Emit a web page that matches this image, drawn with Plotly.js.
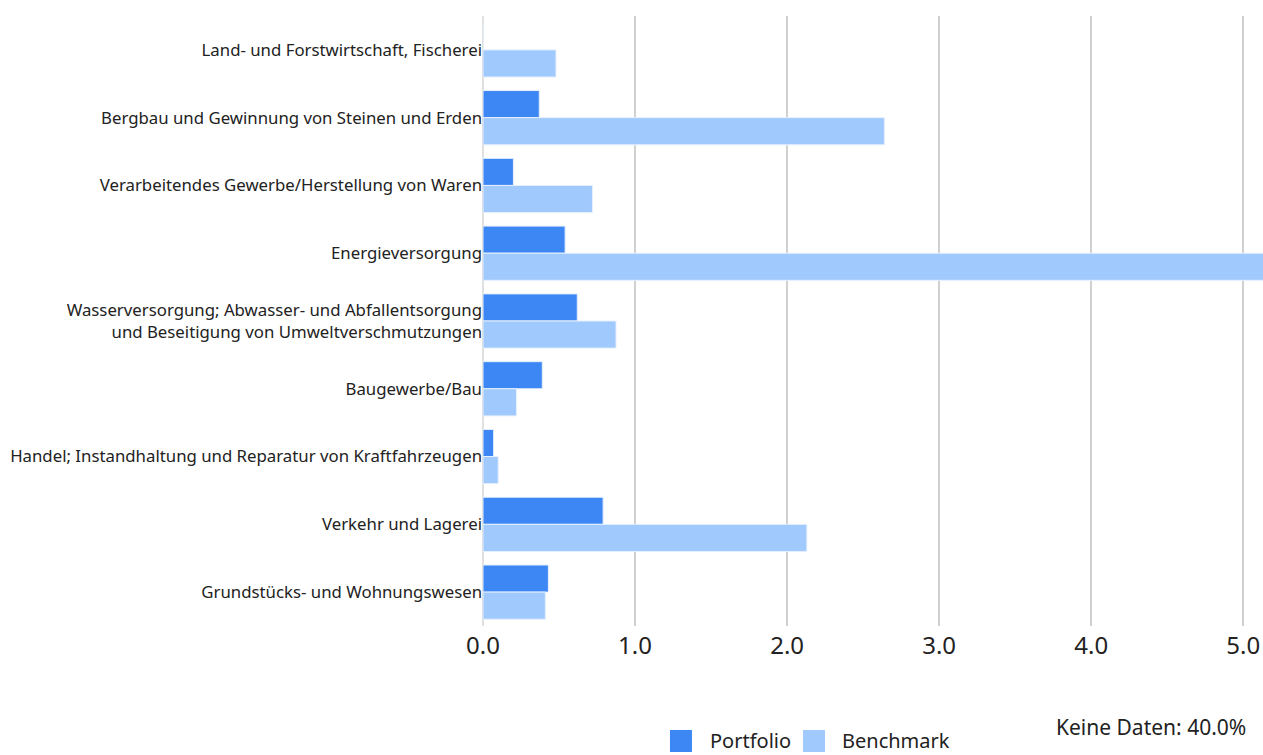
<!DOCTYPE html>
<html>
<head>
<meta charset="utf-8">
<script src="https://cdn.plot.ly/plotly-3.0.1.min.js"></script>
<style>
  html, body { margin: 0; padding: 0; background: #fff; }
  #chart { width: 1263px; height: 755px; }
</style>
</head>
<body>
<div id="chart"></div>
<script>
const categories = [
  "Land- und Forstwirtschaft, Fischerei",
  "Bergbau und Gewinnung von Steinen und Erden",
  "Verarbeitendes Gewerbe/Herstellung von Waren",
  "Energieversorgung",
  "Wasserversorgung; Abwasser- und Abfallentsorgung<br>und Beseitigung von Umweltverschmutzungen",
  "Baugewerbe/Bau",
  "Handel; Instandhaltung und Reparatur von Kraftfahrzeugen",
  "Verkehr und Lagerei",
  "Grundstücks- und Wohnungswesen"
];
const portfolio = [0, 0.37, 0.20, 0.54, 0.62, 0.39, 0.07, 0.79, 0.43];
const benchmark = [0.48, 2.64, 0.72, 5.40, 0.875, 0.22, 0.10, 2.13, 0.41];
const xTickVals = [0, 1, 2, 3, 4, 5];
const xTickText = ["0.0", "1.0", "2.0", "3.0", "4.0", "5.0"];
const seriesNames = ["Portfolio", "Benchmark"];
const seriesColors = ["#3d87f5", "#a0c9fd"];
const noteText = "Keine Daten: 40.0%";

const FONT = "Noto Sans, Open Sans, sans-serif";
const BORDER = "#e6effd";

const traces = [
  {
    type: "bar", orientation: "h", name: seriesNames[0],
    y: categories, x: portfolio,
    marker: { color: seriesColors[0], line: { color: BORDER, width: 1 } },
    hoverinfo: "x+name"
  },
  {
    type: "bar", orientation: "h", name: seriesNames[1],
    y: categories, x: benchmark,
    marker: { color: seriesColors[1], line: { color: BORDER, width: 1 } },
    hoverinfo: "x+name"
  }
];

// Legend drawn below the plot (swatch + label per series)
const legendSwatchX = [0.2397, 0.4103];
const legendTextX = [0.2885, 0.4577];
const swatchW = 0.0282, swatchTop = -0.1705, swatchBottom = -0.2066, legendTextY = -0.1885;

const shapes = seriesNames.map((n, i) => ({
  type: "rect", xref: "paper", yref: "paper", layer: "above",
  x0: legendSwatchX[i], x1: legendSwatchX[i] + swatchW,
  y0: swatchBottom, y1: swatchTop,
  fillcolor: seriesColors[i], line: { width: 0 }
}));

const annotations = seriesNames.map((n, i) => ({
  text: n, xref: "paper", yref: "paper",
  x: legendTextX[i], xanchor: "left", y: legendTextY, yanchor: "middle",
  showarrow: false,
  font: { size: 20, color: "#222", family: FONT }
}));
annotations.push({
  text: noteText, xref: "paper", yref: "paper",
  x: 1, xanchor: "right", y: -0.165, yanchor: "middle",
  xshift: -15,
  showarrow: false,
  font: { size: 21, color: "#222", family: FONT }
});

const layout = {
  width: 1263, height: 755,
  margin: { l: 483, r: 0, t: 16, b: 129, pad: 0 },
  paper_bgcolor: "#fff", plot_bgcolor: "#fff",
  barmode: "group",
  bargap: 0.2, bargroupgap: 0,
  showlegend: false,
  font: { family: FONT, color: "#222" },
  xaxis: {
    range: [0, 5.13],
    tickvals: xTickVals, ticktext: xTickText,
    tickfont: { size: 24, color: "#222", family: FONT },
    ticklabelstandoff: 3,
    showgrid: true, gridcolor: "#d0d0d0", gridwidth: 2,
    zeroline: true, zerolinecolor: "#e0e0e0", zerolinewidth: 2,
    showline: false, ticks: ""
  },
  yaxis: {
    autorange: "reversed",
    tickfont: { size: 16.8, color: "#222", family: FONT },
    showgrid: false, zeroline: false, showline: false,
    ticks: "", ticklen: 0
  },
  shapes: shapes,
  annotations: annotations
};

Plotly.newPlot("chart", traces, layout, { displayModeBar: false, staticPlot: true });
</script>
</body>
</html>
